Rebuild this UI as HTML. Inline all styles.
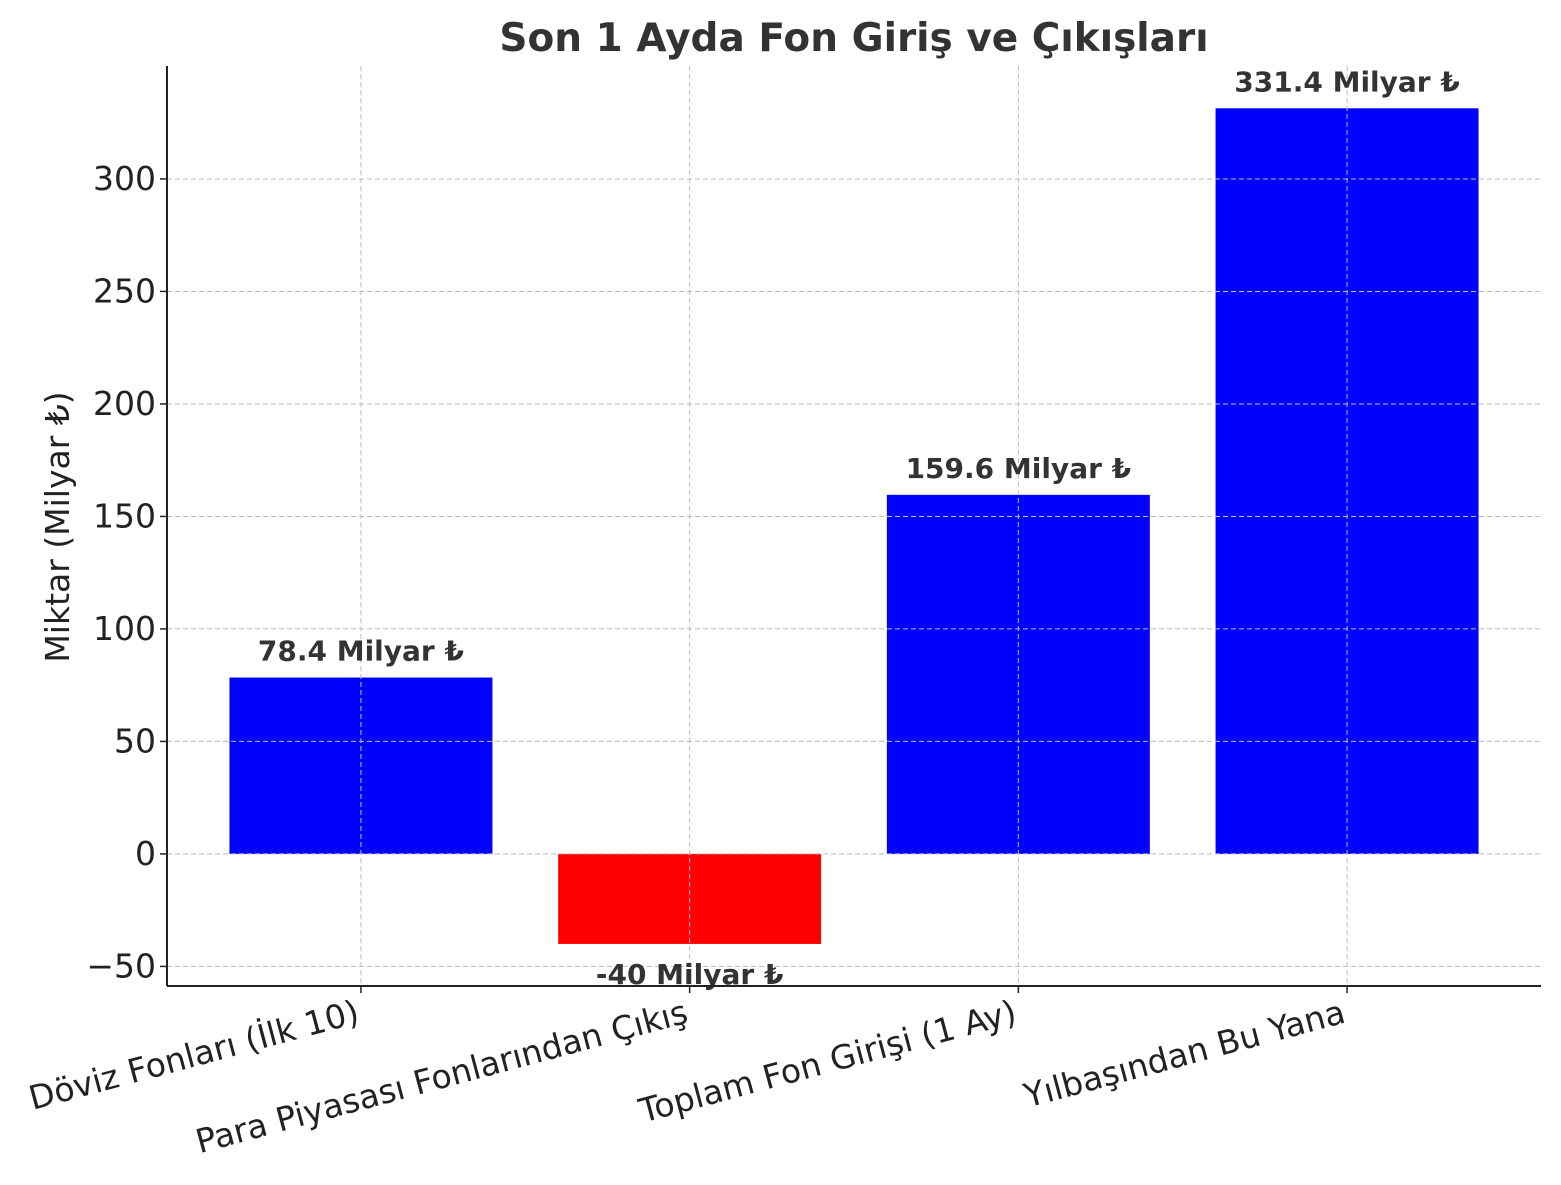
<!DOCTYPE html>
<html><head><meta charset="utf-8"><style>
body{margin:0;background:#fff}
svg text{font-family:"DejaVu Sans","Liberation Sans",sans-serif}
</style></head><body>
<svg id="chart" width="1561" height="1180" xmlns="http://www.w3.org/2000/svg">
<text x="854" y="51" text-anchor="middle" font-size="39" font-weight="bold" fill="#333">Son 1 Ayda Fon Giriş ve Çıkışları</text>
<text transform="translate(69,527) rotate(-90)" text-anchor="middle" font-size="33" fill="#222">Miktar (Milyar ₺)</text>
<g id="grid"></g><g id="bars"></g><g id="axes"></g>
</svg>
<script>
const categories=["Döviz Fonları (İlk 10)","Para Piyasası Fonlarından Çıkış","Toplam Fon Girişi (1 Ay)","Yılbaşından Bu Yana"];
const values=[78.4,-40,159.6,331.4];
const valueLabels=["78.4 Milyar ₺","-40 Milyar ₺","159.6 Milyar ₺","331.4 Milyar ₺"];
const yTicks=[-50,0,50,100,150,200,250,300];
const yTickLabels=["−50","0","50","100","150","200","250","300"];
const L=167,R=1541,T=66,B=986,ymin=-58.7,ymax=350.2,xmin=-0.59,xmax=3.59;
const NS="http://www.w3.org/2000/svg";
const y=v=>B-(v-ymin)/(ymax-ymin)*(B-T);
const x=i=>L+(i-xmin)/(xmax-xmin)*(R-L);
const bw=0.8*(R-L)/(xmax-xmin);
function mk(p,t,a){const e=document.createElementNS(NS,t);for(const k in a)e.setAttribute(k,a[k]);document.getElementById(p).appendChild(e);return e;}
yTicks.forEach((v,i)=>{
 const g=mk("grid","line",{x1:L,x2:R,y1:y(v),y2:y(v),stroke:"#bbb","stroke-dasharray":"5,3","stroke-width":1});
 
 
 const t=mk("axes","line",{x1:L-7,x2:L,y1:y(v),y2:y(v),stroke:"#222","stroke-width":1.5});
 
 
 const tx=mk("axes","text",{x:L-11,y:y(v)+11,"text-anchor":"end","font-size":33,fill:"#222"});
 tx.textContent=yTickLabels[i];
 
 
});
categories.forEach((c,i)=>{
 const cx=x(i);
 const v=values[i];
 const r=mk("bars","rect",{x:cx-bw/2,y:Math.min(y(v),y(0)),width:bw,height:Math.abs(y(v)-y(0)),fill:v<0?"#ff0000":"#0000ff"});
 
 
 const g=mk("grid","line",{x1:cx,x2:cx,y1:T,y2:B,stroke:"#bbb","stroke-dasharray":"5,3","stroke-width":1});
 
 
 const t=mk("axes","line",{x1:cx,x2:cx,y1:B,y2:B+7,stroke:"#222","stroke-width":1.5});
 
 
 const lab=mk("axes","text",{x:cx,y:v<0?y(v)+40:y(v)-17,"text-anchor":"middle","font-size":28,"font-weight":"bold",fill:"#333"});
 lab.textContent=valueLabels[i];
 
 
 const xl=mk("axes","text",{transform:`translate(${cx},${B+36}) rotate(-15)`,"text-anchor":"end","font-size":33,fill:"#222"});
 xl.textContent=c;
 
 
});
const g=document.getElementById("bars");g.parentNode.insertBefore(document.getElementById("grid"),g.nextSibling);
const a1=mk("axes","line",{x1:L,x2:L,y1:T,y2:B,stroke:"#222","stroke-width":2});


const a2=mk("axes","line",{x1:L,x2:R,y1:B,y2:B,stroke:"#222","stroke-width":2});


</script>
</body></html>
